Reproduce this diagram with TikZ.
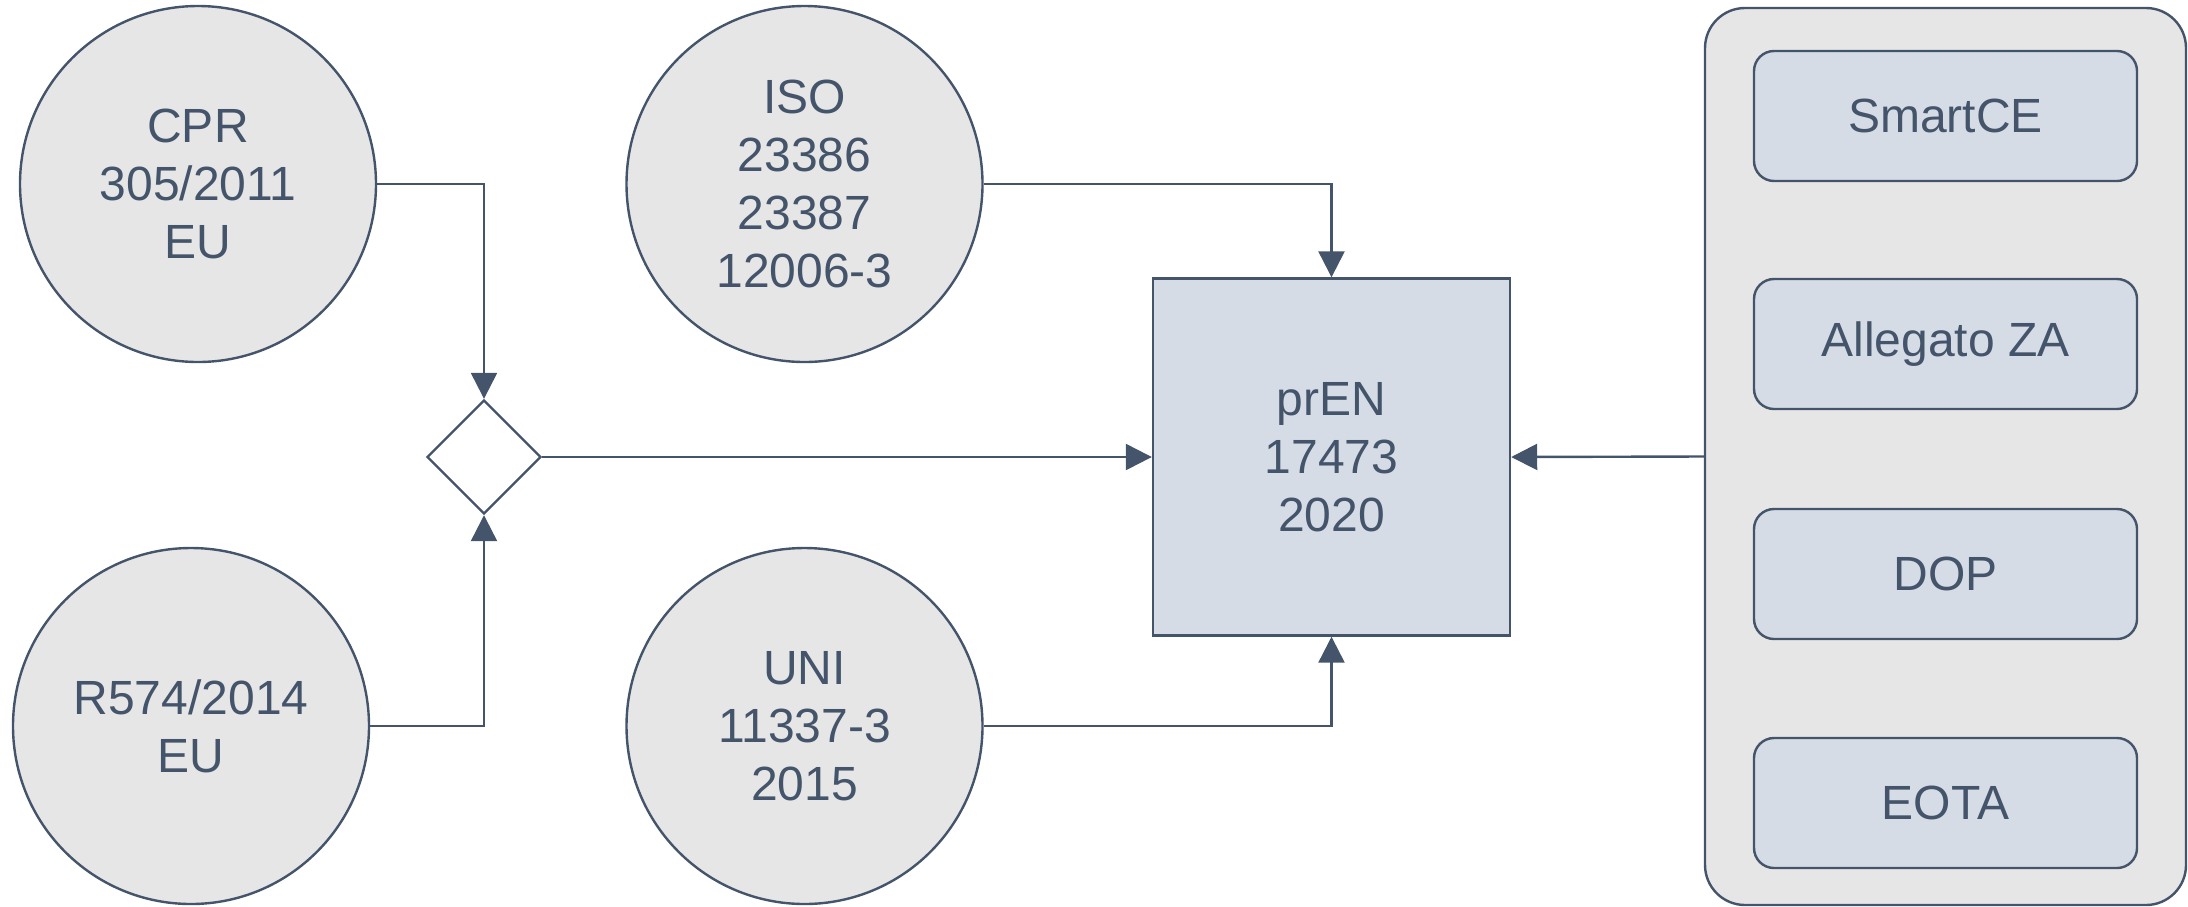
\documentclass[tikz,border=0pt]{standalone}
\usepackage{fontspec}
\setmainfont{Liberation Sans}
\usetikzlibrary{arrows.meta,shapes.geometric}
\definecolor{slate}{HTML}{44546A}
\definecolor{greyfill}{HTML}{E6E6E6}
\definecolor{bluefill}{HTML}{D6DCE5}

\begin{document}
\begin{tikzpicture}[x=0.5pt,y=-0.5pt,
    every node/.style={text=slate, font=\fontsize{24}{29}\selectfont, align=center, inner sep=0pt},
    norm/.style={circle, draw=slate, line width=1.2pt, fill=greyfill, minimum size=178pt},
    gate/.style={diamond, draw=slate, line width=1.2pt, fill=white, aspect=1, minimum size=57pt},
    target/.style={rectangle, draw=slate, line width=1.2pt, fill=bluefill, minimum size=178.5pt},
    group/.style={rectangle, rounded corners=20pt, draw=slate, line width=1.2pt, fill=greyfill, minimum width=240.5pt, minimum height=448.5pt},
    item/.style={rectangle, rounded corners=10pt, draw=slate, line width=1.2pt, fill=bluefill, minimum width=191.5pt, minimum height=65pt},
    arr/.style={draw=slate, line width=1.2pt, -{Triangle[length=13pt,width=13pt]}}]
    \useasboundingbox (0,0) rectangle (2188,906);

    \node[norm] (cpr) at (198,184) {CPR\\305/2011\\EU};
    \node[norm] (reg) at (191,726) {R574/2014\\EU};
    \node[norm] (iso) at (804.5,184) {ISO\\23386\\23387\\12006-3};
    \node[norm] (uni) at (804.5,726) {UNI\\11337-3\\2015};
    \node[gate] (gate) at (484,457) {};
    \node[target] (pren) at (1331.5,457) {prEN\\17473\\2020};

    \node[group] (group) at (1945.5,456.5) {};
    \node[item] (smart) at (1945.5,116) {SmartCE};
    \node[item] (annex) at (1945.5,344) {Allegato ZA};
    \node[item] (dop) at (1945.5,574) {DOP};
    \node[item] (eota) at (1945.5,803) {EOTA};

    \draw [arr] (cpr.east) -| (gate.north);
    \draw [arr] (reg.east) -| (gate.south);
    \draw [arr] (gate.east) -- (pren.west);
    \draw [arr] (iso.east) -| (pren.north);
    \draw [arr] (uni.east) -| (pren.south);
    \draw [arr] (group.west) -- (pren.east);
\end{tikzpicture}
\end{document}
